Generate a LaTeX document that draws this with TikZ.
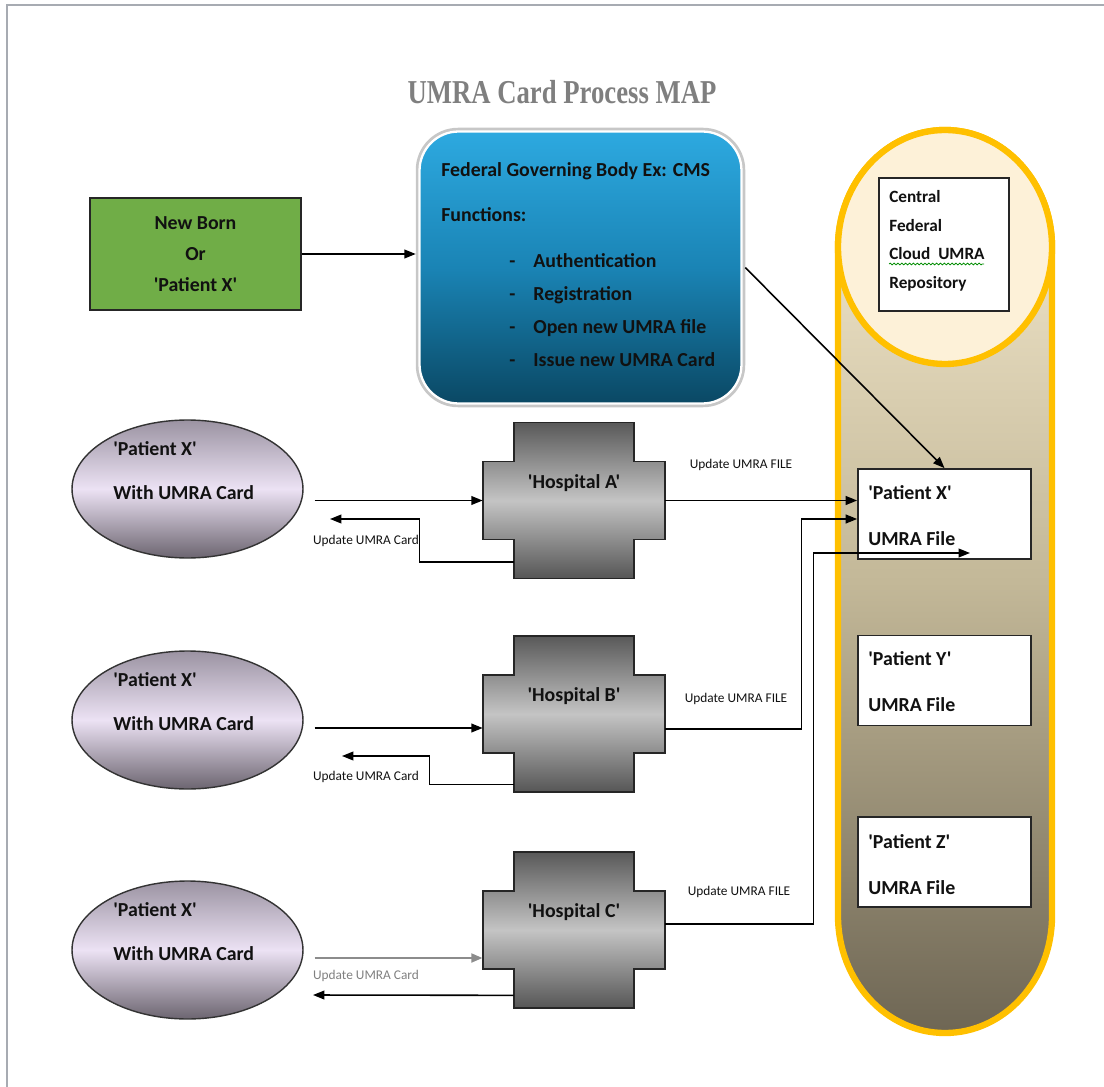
\documentclass[tikz,border=0pt]{standalone}
\usepackage{fontspec}
\setmainfont{Carlito}[Ligatures=TeXOff]
\newfontfamily\titlefont{Liberation Serif}[FakeStretch=0.8]
\usetikzlibrary{arrows.meta,decorations.pathmorphing,shapes.geometric}

\definecolor{newgreen}{HTML}{70AD47}
\definecolor{fedtop}{HTML}{2DA9E0}
\definecolor{fedmid}{HTML}{1A84B5}
\definecolor{fedbot}{HTML}{0A4864}
\definecolor{lavtop}{HTML}{9B93A2}
\definecolor{lavmid}{HTML}{ECE2F4}
\definecolor{lavbot}{HTML}{6C6570}
\definecolor{hosptop}{HTML}{595959}
\definecolor{hospmid}{HTML}{C4C4C4}
\definecolor{hospbot}{HTML}{565656}
\definecolor{cantop}{HTML}{F8EDD2}
\definecolor{canmid}{HTML}{C3B898}
\definecolor{canbot}{HTML}{6E6654}
\definecolor{canlid}{HTML}{FDF1D8}
\definecolor{canrim}{HTML}{FFC000}
\definecolor{framegray}{HTML}{A7ABB2}
\definecolor{titlegray}{HTML}{7F7F7F}
\definecolor{ink}{HTML}{111111}

% cross-shaped hospital: #1 name, #2 centre x, #3 centre y (measured downwards), #4 label
\newcommand\hospcross[4]{%
  \path[hospital]
    ({#2-60},{-(#3-78)}) -- ({#2+60},{-(#3-78)}) -- ({#2+60},{-(#3-39)}) --
    ({#2+91},{-(#3-39)}) -- ({#2+91},{-(#3+39)}) -- ({#2+60},{-(#3+39)}) --
    ({#2+60},{-(#3+78)}) -- ({#2-60},{-(#3+78)}) -- ({#2-60},{-(#3+39)}) --
    ({#2-91},{-(#3+39)}) -- ({#2-91},{-(#3-39)}) -- ({#2-60},{-(#3-39)}) -- cycle;
  \node[crossbar] (#1) at (#2,-#3) {};
  \node[crossstem] (#1v) at (#2,-#3) {};
  \node[bigtxt] (#1lbl) at (#2,{-(#3-19)}) {#4};
}

\begin{document}
\begin{tikzpicture}[x=0.02cm,y=0.02cm,
  bigtxt/.style={font=\bfseries\fontsize{11.3}{13}\selectfont, text=ink, inner sep=0pt, text height=1.6ex, text depth=0.45ex, yshift=-0.04cm},
  reptxt/.style={font=\bfseries\fontsize{9.8}{16.3}\selectfont, text=ink, inner sep=0pt, align=left},
  smalltxt/.style={font=\fontsize{7.6}{9}\selectfont, text=ink, inner sep=0pt},
  arr/.style={-{Triangle[length=6.5pt,width=5pt]}, line width=0.9pt, draw=black},
  crossbar/.style={draw=none, minimum width=3.64cm, minimum height=1.56cm, inner sep=0pt},
  crossstem/.style={draw=none, minimum width=2.4cm, minimum height=3.12cm, inner sep=0pt},
  hospital/.style={draw=black!85, line width=1pt, top color=hosptop, bottom color=hospbot, middle color=hospmid},
  patient/.style={ellipse, draw=black!80, line width=0.8pt, top color=lavtop, bottom color=lavbot, middle color=lavmid,
    minimum width=4.62cm, minimum height=2.76cm, inner sep=0pt},
  filebox/.style={draw=black!85, line width=1pt, fill=white, minimum width=3.46cm, minimum height=1.8cm, inner sep=0pt},
]
\useasboundingbox (0,0) rectangle (1104,-1087);

% page frame
\draw[framegray, line width=1.3pt] (7,-1087) -- (7,-5) -- (1104,-5);

% title
\node[font=\titlefont\bfseries\fontsize{19}{22}\selectfont, text=titlegray, inner sep=0pt] (title) at (562,-92) {UMRA Card Process MAP};

% new born box
\node[draw=black!85, line width=1pt, fill=newgreen, minimum width=4.22cm, minimum height=2.24cm,
      align=center, font=\bfseries\fontsize{11.3}{17.6}\selectfont, text=ink] (born) at (195.5,-254)
      {New Born\\Or\\'Patient X'};

% federal governing body
\node[rounded corners=0.8cm, draw=black!22, line width=2.6pt, inner sep=0pt,
      minimum width=6.5cm, minimum height=5.5cm] (fedrim) at (580.5,-267.5) {};
\node[rounded corners=0.78cm, draw=white, line width=1.3pt, top color=fedtop, bottom color=fedbot, middle color=fedmid,
      minimum width=6.44cm, minimum height=5.44cm, inner sep=0pt] (fed) at (580.5,-267.5) {};
\node[bigtxt, anchor=west] (fedname) at (441,-170) {Federal Governing Body Ex: CMS};
\node[bigtxt, anchor=west] (fedfun) at (441,-215) {Functions:};
\foreach \yy/\item/\nm in {261/Authentication/f1, 294/Registration/f2, 327/Open new UMRA file/f3, 360/Issue new UMRA Card/f4}{
  \node[bigtxt, anchor=west] (\nm dash) at (509,-\yy) {-};
  \node[bigtxt, anchor=west] (\nm) at (533,-\yy) {\item};
}

% central repository cylinder
\path[draw=canrim, line width=3.6pt, top color=cantop, bottom color=canbot, middle color=canmid]
  (838,-247) -- (838,-916) arc[start angle=180, end angle=360, x radius=107, y radius=117]
  -- (1052,-247) arc[start angle=0, end angle=180, x radius=107, y radius=117] -- cycle;
\draw[canrim, line width=3.6pt, fill=canlid] (945,-247) ellipse[x radius=107, y radius=117];

\node[draw=black!85, line width=1pt, fill=white, minimum width=2.6cm, minimum height=2.66cm, inner sep=0pt] (repo) at (944,-244.5) {};
\node[reptxt, anchor=north west] (repotxt) at (889,-190) {Central\\Federal\\Cloud\ \ UMRA\\Repository};
\draw[green!55!black, line width=0.45pt, decorate, decoration={snake, amplitude=0.5pt, segment length=2.2pt}]
  (889,-264) -- (984,-264);

% patient files
\node[filebox] (fX) at (944.5,-514) {};
\node[filebox] (fY) at (944.5,-680.5) {};
\node[filebox] (fZ) at (944.5,-862) {};
\node[bigtxt, anchor=west] (fXa) at (868,-493) {'Patient X'};
\node[bigtxt, anchor=west] (fXb) at (868,-539) {UMRA File};
\node[bigtxt, anchor=west] (fYa) at (868,-659) {'Patient Y'};
\node[bigtxt, anchor=west] (fYb) at (868,-705) {UMRA File};
\node[bigtxt, anchor=west] (fZa) at (868,-842) {'Patient Z'};
\node[bigtxt, anchor=west] (fZb) at (868,-888) {UMRA File};

% card holders
\node[patient] (pA) at (187.5,-489) {};
\node[patient] (pB) at (187.5,-720) {};
\node[patient] (pC) at (187.5,-950) {};
\foreach \nm/\yy in {pA/489, pB/720, pC/950}{
  \node[bigtxt, anchor=west] (\nm t1) at (113,{-(\yy-40)}) {'Patient X'};
  \node[bigtxt, anchor=west] (\nm t2) at (113,{-(\yy+4)}) {With UMRA Card};
}

% hospitals
\hospcross{hA}{574}{500.5}{'Hospital A'}
\hospcross{hB}{574}{714}{'Hospital B'}
\hospcross{hC}{574}{930}{'Hospital C'}

% connectors: registration
\draw[arr] (born.east) -- (born.east -| fedrim.west);
\draw[arr] (fedrim.east) -- (fX.north);

% hospital A
\draw[arr] ([xshift=0.22cm]pA.east |- hA.west) -- (hA.west);
\coordinate (rA) at (330,-519);
\draw[arr] ([yshift=0.34cm]hAv.south west) -- ++(-94,0) |- (rA);
\draw[arr] (hA.east) -- (hA.east -| fX.west);
\node[smalltxt] (lblA1) at (366,-541) {Update UMRA Card};
\node[smalltxt] (lblA2) at (741,-465) {Update UMRA FILE};

% hospital B
\coordinate (inB) at ([yshift=-0.28cm]hB.west);
\draw[arr] ([xshift=0.22cm]pB.east |- inB) -- (inB);
\coordinate (rB) at (342,-756);
\draw[arr] ([yshift=0.16cm]hBv.south west) -- ++(-84,0) |- (rB);
\coordinate (oB) at ([yshift=-0.3cm]hB.east);
\coordinate (tB) at ([yshift=-0.1cm]fX.west);
\draw[arr] (oB) -- ++(136,0) |- (tB);
\node[smalltxt] (lblB1) at (366,-777) {Update UMRA Card};
\node[smalltxt] (lblB2) at (736,-699) {Update UMRA FILE};

% hospital C
\coordinate (inC) at ([yshift=-0.56cm]hC.west);
\draw[-{Triangle[length=6.5pt,width=5pt]}, line width=1.5pt, draw=black!45] ([xshift=0.22cm]pC.east |- inC) -- (inC);
\coordinate (rC) at (313,-995);
\draw[arr] ([yshift=0.26cm]hCv.south west) -- (rC);
\coordinate (oC) at ([yshift=0.12cm]hC.east);
\coordinate (tC) at (970,-553);
\draw[arr] (oC) -- ++(148,0) |- (tC);
\node[smalltxt, text=black!50] (lblC1) at (366,-976) {Update UMRA Card};
\node[smalltxt] (lblC2) at (739,-892) {Update UMRA FILE};
\end{tikzpicture}
\end{document}
